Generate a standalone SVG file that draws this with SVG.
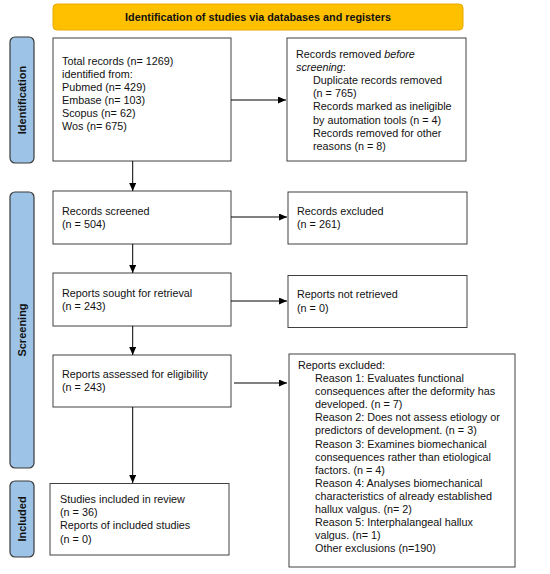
<svg xmlns="http://www.w3.org/2000/svg" width="550" height="574" viewBox="0 0 550 574">
<style>
.box{fill:#fff;stroke:#404040;stroke-width:1}
.side{fill:#9DC3E6;stroke:#3A3A3A;stroke-width:1.2}
.banner{fill:#FFC000;stroke:#EBA800;stroke-width:1}
text{font-family:"Liberation Sans",Arial,sans-serif;font-size:10.8px;fill:#111}
.b{font-weight:bold}
.lbl{font-weight:bold;font-size:11px;text-anchor:middle}
.con{stroke:#000;stroke-width:1;fill:none;marker-end:url(#ah)}
</style>
<defs>
<marker id="ah" markerUnits="userSpaceOnUse" markerWidth="8" markerHeight="8" refX="8" refY="3.5" orient="auto">
<path d="M0,0 L8,3.5 L0,7 z" fill="#000"/>
</marker>
</defs>
<rect width="550" height="574" fill="#fff"/>
<g id="banner">
<rect class="banner" x="53" y="4" width="410" height="26" rx="4"/>
<text class="b" x="258" y="21" text-anchor="middle">Identification of studies via databases and registers</text>
</g>
<g id="phase-identification">
<rect class="side" x="10" y="37" width="24" height="126" rx="5"/>
<text class="lbl" transform="translate(26,100) rotate(-90)">Identification</text>
</g>
<g id="phase-screening">
<rect class="side" x="10" y="192" width="24" height="276" rx="5"/>
<text class="lbl" transform="translate(26,330) rotate(-90)">Screening</text>
</g>
<g id="phase-included">
<rect class="side" x="10" y="481" width="24" height="76" rx="5"/>
<text class="lbl" transform="translate(26,519) rotate(-90)">Included</text>
</g>
<g id="identified">
<rect class="box" x="53" y="38" width="178" height="123"/>
<text x="62" y="64.6">Total records (n= 1269)</text>
<text x="62" y="77.6">identified from:</text>
<text x="62" y="90.6">Pubmed (n= 429)</text>
<text x="62" y="103.6">Embase (n= 103)</text>
<text x="62" y="116.6">Scopus (n= 62)</text>
<text x="62" y="129.6">Wos (n= 675)</text>
</g>
<g id="removed">
<rect class="box" x="287" y="38" width="179" height="123"/>
<text x="296" y="58">Records removed <tspan font-style="italic">before</tspan></text>
<text x="296" y="71.1"><tspan font-style="italic">screening</tspan>:</text>
<text x="313" y="84.2">Duplicate records removed</text>
<text x="313" y="97.3">(n = 765)</text>
<text x="313" y="110.4">Records marked as ineligible</text>
<text x="313" y="123.5">by automation tools (n = 4)</text>
<text x="313" y="136.6">Records removed for other</text>
<text x="313" y="149.7">reasons (n = 8)</text>
</g>
<g id="screened">
<rect class="box" x="53" y="191" width="178" height="53"/>
<text x="62" y="214.6">Records screened</text>
<text x="62" y="228.2">(n = 504)</text>
</g>
<g id="excluded1">
<rect class="box" x="288" y="192" width="179" height="52"/>
<text x="297" y="214.6">Records excluded</text>
<text x="297" y="228.2">(n = 261)</text>
</g>
<g id="sought">
<rect class="box" x="53" y="273" width="178" height="53"/>
<text x="62" y="296.6">Reports sought for retrieval</text>
<text x="62" y="310">(n = 243)</text>
</g>
<g id="notretrieved">
<rect class="box" x="288" y="275.5" width="179" height="52"/>
<text x="297" y="298.2">Reports not retrieved</text>
<text x="297" y="311.6">(n = 0)</text>
</g>
<g id="assessed">
<rect class="box" x="53" y="355" width="178" height="52"/>
<text x="62" y="377.9">Reports assessed for eligibility</text>
<text x="62" y="391.2">(n = 243)</text>
</g>
<g id="excluded2">
<rect class="box" x="289" y="354" width="226" height="213"/>
<text x="298" y="368.9">Reports excluded:</text>
<text x="315" y="382">Reason 1: Evaluates functional</text>
<text x="315" y="395.1">consequences after the deformity has</text>
<text x="315" y="408.2">developed. (n = 7)</text>
<text x="315" y="421.3">Reason 2: Does not assess etiology or</text>
<text x="315" y="434.4">predictors of development. (n = 3)</text>
<text x="315" y="447.5">Reason 3: Examines biomechanical</text>
<text x="315" y="460.6">consequences rather than etiological</text>
<text x="315" y="473.7">factors. (n = 4)</text>
<text x="315" y="486.8">Reason 4: Analyses biomechanical</text>
<text x="315" y="499.9">characteristics of already established</text>
<text x="315" y="513">hallux valgus. (n= 2)</text>
<text x="315" y="526.1">Reason 5: Interphalangeal hallux</text>
<text x="315" y="539.2">valgus. (n= 1)</text>
<text x="315" y="552.3">Other exclusions (n=190)</text>
</g>
<g id="included">
<rect class="box" x="50" y="483.5" width="179" height="71.5"/>
<text x="60" y="502.6">Studies included in review</text>
<text x="60" y="516">(n = 36)</text>
<text x="60" y="529.4">Reports of included studies</text>
<text x="60" y="542.8">(n = 0)</text>
</g>
<g id="connectors">
<line class="con" x1="231" y1="100" x2="286" y2="100"/>
<line class="con" x1="132.7" y1="161" x2="132.7" y2="191"/>
<line class="con" x1="231" y1="217" x2="287" y2="217"/>
<line class="con" x1="132.7" y1="244" x2="132.7" y2="273"/>
<line class="con" x1="231" y1="301" x2="287" y2="301"/>
<line class="con" x1="132.7" y1="326" x2="132.7" y2="355"/>
<line class="con" x1="234" y1="383" x2="287" y2="383"/>
<line class="con" x1="132.7" y1="407" x2="132.7" y2="483"/>
</g>
</svg>
